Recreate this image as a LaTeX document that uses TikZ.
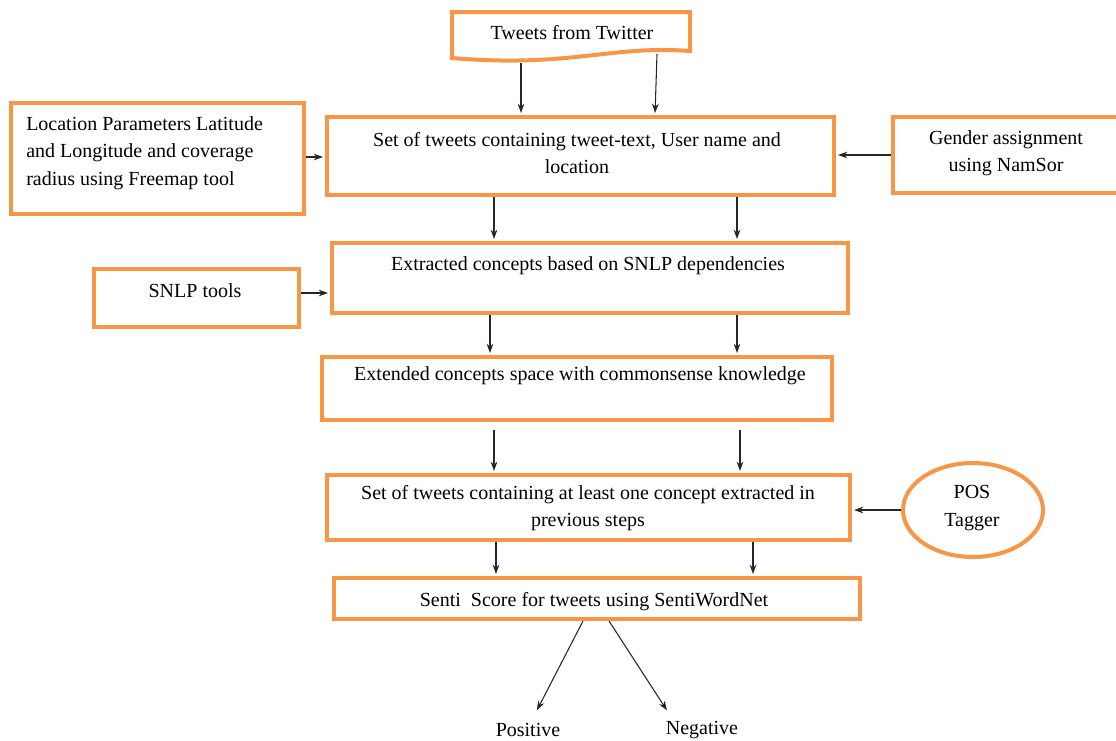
\documentclass[tikz,border=0pt]{standalone}
\usepackage{fontspec}
\setmainfont{Liberation Serif}
\usetikzlibrary{arrows.meta,shapes.geometric}
\definecolor{org}{RGB}{247,150,70}
\begin{document}
\begin{tikzpicture}[x=0.75pt,y=-0.75pt,
  box/.style={draw=org,line width=3pt,fill=white,inner sep=0pt},
  txt/.style={font=\fontsize{15}{20.5}\selectfont,align=center,inner sep=0pt},
  arr/.style={-{Stealth[length=7pt,width=5pt]},line width=0.8pt,draw=black!85,shorten >=1.5pt}]
\useasboundingbox (0,0) rectangle (1116,740);
% Tweets from Twitter (document shape)
\draw[draw=org,line width=3pt,fill=white] (452,12) -- (690,12) -- (690,51)
  .. controls (610,45) and (570,68) .. (452,58) -- cycle;
\node[txt] (tw) at (572,33) {Tweets from Twitter};
\coordinate (tw1) at (521,63);
\coordinate (tw2) at (657,54);
% boxes
\node[box,minimum width=380.25pt,minimum height=58.5pt] (b1) at (580.5,156) {};
\node[txt] (b1t) at (577,153) {Set of tweets containing tweet-text, User name and\\location};
\node[box,minimum width=219.75pt,minimum height=83.25pt] (loc) at (157.5,158.5) {};
\node[txt,align=left,anchor=west] (loct) at (26,153) {Location Parameters Latitude\\and Longitude and coverage\\radius using Freemap tool};
\node[box,minimum width=170.25pt,minimum height=57pt] (gen) at (1006.5,155) {};
\node[txt] (gent) at (1006,153) {Gender assignment\\using NamSor};
\node[box,minimum width=387pt,minimum height=52.5pt] (b2) at (590,278) {};
\node[txt] (b2t) at (588,266) {Extracted concepts based on SNLP dependencies};
\node[box,minimum width=153.75pt,minimum height=43.5pt] (snlp) at (196.5,298) {};
\node[txt] (snlpt) at (195,291) {SNLP tools};
\node[box,minimum width=382.5pt,minimum height=47.25pt] (b3) at (577,388.5) {};
\node[txt] (b3t) at (580,376) {Extended concepts space with commonsense knowledge};
\node[box,minimum width=392.25pt,minimum height=48.75pt] (b4) at (588.5,507.5) {};
\node[txt] (b4t) at (588,508) {Set of tweets containing at least one concept extracted in\\previous steps};
\node[box,ellipse,minimum width=105pt,minimum height=70.5pt] (pos) at (973,510) {};
\node[txt] (post) at (972,508) {POS\\Tagger};
\node[box,minimum width=394.5pt,minimum height=30.75pt] (b5) at (597,598.5) {};
\node[txt] (b5t) at (594,602) {Senti\ \ Score for tweets using SentiWordNet};
\node[txt] (posv) at (528,730) {Positive};
\node[txt] (negv) at (702,730) {Negative};
\coordinate (pv) at (536,712);
\coordinate (nv) at (668,712);
% arrows
\draw[arr] (tw1) -- (b1.north -| tw1);
\draw[arr] (tw2) -- (b1.north -| 655,0);
\draw[arr] (loc.east |- 0,157) -- (b1.west |- 0,157);
\draw[arr] (gen.west |- 0,155) -- (b1.east |- 0,155);
\draw[arr] (b1.south -| 494,0) -- (b2.north -| 494,0);
\draw[arr] (b1.south -| 737,0) -- (b2.north -| 737,0);
\draw[arr] (snlp.east |- 0,293) -- (b2.west |- 0,293);
\draw[arr] (b2.south -| 490,0) -- (b3.north -| 490,0);
\draw[arr] (b2.south -| 737,0) -- (b3.north -| 737,0);
\draw[arr] ([yshift=-6pt]b3.south -| 494,0) -- (b4.north -| 494,0);
\draw[arr] ([yshift=-6pt]b3.south -| 740,0) -- (b4.north -| 740,0);
\draw[arr] (pos.west) -- (b4.east |- pos.west);
\draw[arr] (b4.south -| 496,0) -- (b5.north -| 496,0);
\draw[arr] (b4.south -| 753,0) -- (b5.north -| 753,0);
\draw[arr] (b5.south -| 583,0) -- (pv);
\draw[arr] (b5.south -| 609,0) -- (nv);
\end{tikzpicture}
\end{document}
